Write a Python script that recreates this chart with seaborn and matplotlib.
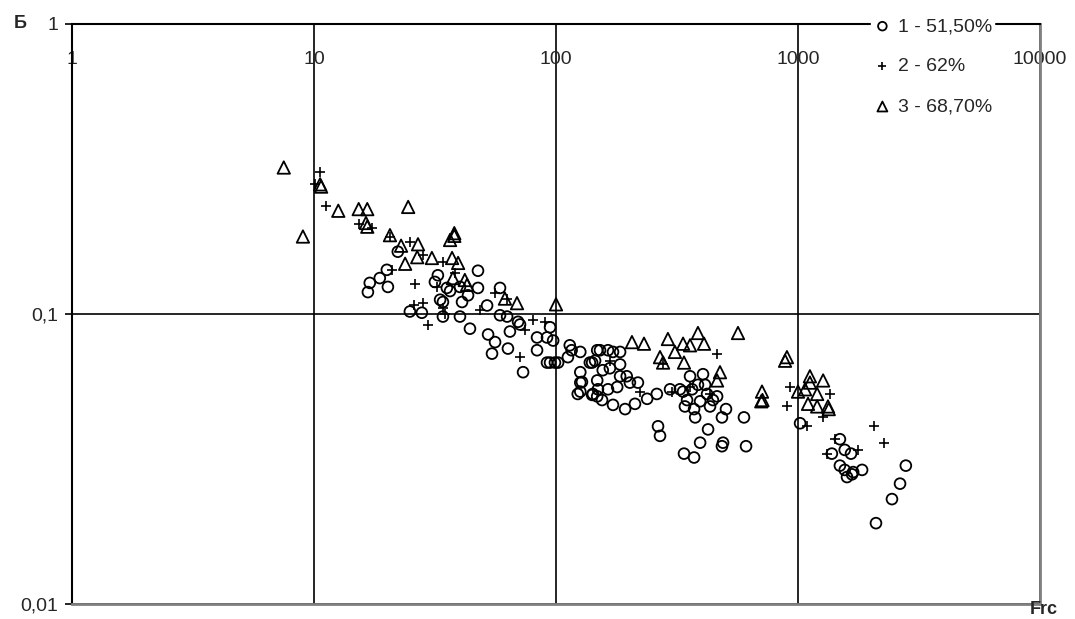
import matplotlib
matplotlib.use("Agg")
import matplotlib.pyplot as plt
import seaborn as sns
import numpy as np
import pandas as pd

# series 1 - 51,50% (circles)
s1_x = [17, 16.7, 18.7, 20, 20.2, 22.2, 24.9, 27.9, 34.1, 33.2, 35.4, 31.6, 32.5,
        47.6, 58.7, 47.6, 36.5, 40.1, 43.3, 40.9, 40.1, 44.1, 52.4, 56, 54.4, 63.3,
        64.5, 73.1, 58.7, 62.8, 69.7, 71, 83.5, 83.5, 91.8, 99, 94.5, 97.3, 91.8,
        51.9, 94.5, 102, 114, 116, 112, 126, 126, 126, 123, 142, 148, 141, 34.1,
        128, 126, 141, 148, 155, 172, 193, 212, 238, 261, 152, 164, 172, 184, 145,
        156, 167, 184, 184, 196, 202, 218, 179, 164, 149, 148, 138, 264, 269,
        338, 372, 394, 425, 490, 485, 610, 598, 504, 485, 358, 405, 335, 348, 341,
        372, 376, 394, 421, 445, 463, 433, 413, 386, 365, 325, 296,
        1020, 1490, 1380, 1560, 1656, 1490, 1560, 1594, 1672, 1690, 1840, 2790,
        2640, 2445, 2100]
s1_y = [0.128, 0.119, 0.133, 0.142, 0.124, 0.164, 0.102, 0.101, 0.098, 0.112, 0.123,
        0.129, 0.136, 0.141, 0.123, 0.123, 0.12, 0.124, 0.116, 0.11, 0.098, 0.089,
        0.085, 0.080, 0.073, 0.076, 0.087, 0.063, 0.099, 0.098, 0.094, 0.092, 0.083,
        0.075, 0.068, 0.068, 0.09, 0.081, 0.083, 0.107, 0.068, 0.068, 0.078, 0.075,
        0.071, 0.074, 0.063, 0.058, 0.053, 0.053, 0.075, 0.068, 0.11,
        0.0583, 0.054, 0.0526, 0.052, 0.0505, 0.0486, 0.047, 0.049, 0.051, 0.053,
        0.075, 0.075, 0.074, 0.074, 0.069, 0.064, 0.065, 0.067, 0.061, 0.061, 0.058,
        0.058, 0.056, 0.055, 0.055, 0.059, 0.068, 0.041, 0.038,
        0.033, 0.032, 0.036, 0.040, 0.036, 0.035, 0.035, 0.044, 0.047, 0.044, 0.061,
        0.062, 0.054, 0.0505, 0.048, 0.047, 0.044, 0.050, 0.053, 0.0505, 0.052,
        0.048, 0.057, 0.057, 0.055, 0.055, 0.055,
        0.042, 0.037, 0.033, 0.034, 0.033, 0.030, 0.029, 0.0274, 0.028, 0.0285,
        0.029, 0.030, 0.026, 0.023, 0.019]

# series 2 - 62% (plus)
s2_x = [10.6, 10.1, 11.2, 15.3, 17.4, 20.6, 24.9, 21, 26.2, 25.9, 28.2, 29.6, 28.2,
        34.1, 32.2, 34.1, 34.8, 38.3, 48.5, 56, 62.8, 71, 80.3, 74.5, 90, 167, 222,
        358, 433, 463, 277, 301, 926, 900, 1356, 1268, 1090, 1420, 1318, 1770,
        2060, 2266]
s2_y = [0.31, 0.28, 0.236, 0.204, 0.198, 0.184, 0.177, 0.142, 0.127, 0.107, 0.109,
        0.092, 0.16, 0.151, 0.124, 0.105, 0.1, 0.138, 0.103, 0.118, 0.113, 0.071,
        0.095, 0.088, 0.094, 0.069, 0.054, 0.056, 0.053, 0.073, 0.067, 0.054,
        0.056, 0.048, 0.053, 0.044, 0.041, 0.037, 0.033, 0.034, 0.041, 0.036]

# series 3 - 68,70% (triangles)
s3_x = [7.5, 9.0, 10.6, 10.7, 12.6, 15.3, 16.6, 16.4, 16.6, 24.5, 20.6, 22.9, 26.9,
        23.8, 26.7, 30.7, 36.5, 38, 38, 37.2, 39.4, 37.5, 42, 42.9, 69, 100, 61.5,
        206, 231, 290, 335, 386, 409, 565, 269, 277, 310, 338, 358, 476, 463,
        710, 713, 705, 900, 884, 1000, 1120, 1270, 1120, 1070, 1200, 1100, 1200,
        1330, 1340]
s3_y = [0.32, 0.185, 0.28, 0.275, 0.227, 0.23, 0.23, 0.206, 0.20, 0.234, 0.187, 0.172,
        0.174, 0.149, 0.157, 0.156, 0.18, 0.19, 0.186, 0.156, 0.15, 0.133, 0.131,
        0.126, 0.109, 0.108, 0.113,
        0.080, 0.079, 0.082, 0.079, 0.086, 0.079, 0.086, 0.071, 0.068, 0.074, 0.068,
        0.078, 0.063, 0.059, 0.054, 0.0505, 0.050, 0.071, 0.069, 0.054, 0.061, 0.059,
        0.058, 0.055, 0.053, 0.049, 0.048, 0.048, 0.047]

labels = ["1 - 51,50%", "2 - 62%", "3 - 68,70%"]
x_ticks = [1, 10, 100, 1000, 10000]
x_ticklabels = ["1", "10", "100", "1000", "10000"]
y_ticks = [0.01, 0.1, 1]
y_ticklabels = ["0,01", "0,1", "1"]

sns.set_style("white")
plt.rcParams["font.family"] = ["Liberation Sans", "DejaVu Sans"]

fig = plt.figure(figsize=(10.75, 6.19), dpi=100)
ax = fig.add_axes([72 / 1075, 1 - 604 / 619, (1040 - 72) / 1075, (604 - 24) / 619])

sns.scatterplot(x=s1_x, y=s1_y, ax=ax, marker="o", s=60, facecolor="none",
                edgecolor="black", linewidth=1.3, label=labels[0], zorder=3)
sns.scatterplot(x=s2_x, y=s2_y, ax=ax, marker="+", s=48, color="black",
                linewidth=1.2, label=labels[1], zorder=3)
sns.scatterplot(x=s3_x, y=s3_y, ax=ax, marker="^", s=80, facecolor="none",
                edgecolor="black", linewidth=1.3, label=labels[2], zorder=3)

ax.set_xscale("log")
ax.set_yscale("log")
ax.set_xlim(1, 10000)
ax.set_ylim(0.01, 1)

ax.set_xticks(x_ticks)
ax.set_xticklabels(x_ticklabels)
ax.set_yticks(y_ticks)
ax.set_yticklabels(y_ticklabels)
ax.minorticks_off()
ax.tick_params(axis="x", bottom=False, labelbottom=False, top=False,
               labeltop=True, pad=-31.5, labelsize=14, length=0)
ax.tick_params(axis="y", left=True, length=5, width=1.2, color="black",
               labelsize=14, pad=5)

ax.grid(True, which="major", color="black", linewidth=1.2)
ax.set_axisbelow(True)
for side in ["left", "top"]:
    ax.spines[side].set_color("black")
    ax.spines[side].set_linewidth(1.5)
for side in ["bottom", "right"]:
    ax.spines[side].set_color("#808080")
    ax.spines[side].set_linewidth(2)

ax.set_xlabel("")
ax.set_ylabel("")
fig.text(14 / 1075, 1 - 24 / 619, "Б", fontsize=13, fontweight="bold",
         ha="left", va="center")
fig.text(1044 / 1075, 1 - 609 / 619, "Frc", fontsize=13, fontweight="bold",
         ha="center", va="center")

leg = ax.legend(loc="upper left", bbox_to_anchor=(861 / 1075, 1 - 6 / 619),
                bbox_transform=fig.transFigure, fontsize=14, frameon=True,
                facecolor="white", edgecolor="white", framealpha=1,
                handletextpad=0.3, labelspacing=1.16, borderpad=0.1,
                handlelength=1.0, markerscale=0.8, fancybox=False)

fig.savefig("out.png", dpi=100)
